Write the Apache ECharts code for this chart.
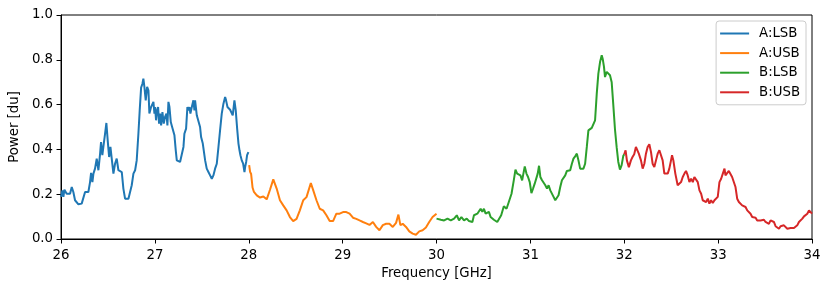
<!DOCTYPE html>
<html>
<head>
<meta charset="utf-8">
<script src="https://cdn.jsdelivr.net/npm/echarts@6/dist/echarts.min.js"></script>
<style>html,body{margin:0;padding:0;background:#fff;}#c{width:831px;height:290px;}</style>
</head>
<body>
<div id="c"></div>
<script>
// Frequency [GHz], Power [du]
const seriesNames = ['A:LSB', 'A:USB', 'B:LSB', 'B:USB'];
const xTicks = [26, 27, 28, 29, 30, 31, 32, 33, 34];
const yTicks = [0.0, 0.2, 0.4, 0.6, 0.8, 1.0];

const aLsb = [[26.000,0.188],[26.014,0.217],[26.025,0.188],[26.036,0.220],[26.060,0.202],[26.096,0.202],[26.114,0.232],[26.131,0.210],[26.149,0.173],[26.185,0.155],
[26.202,0.147],[26.220,0.158],[26.238,0.150],[26.256,0.210],[26.274,0.210],[26.291,0.210],[26.309,0.254],[26.320,0.295],[26.334,0.254],[26.345,0.292],
[26.362,0.314],[26.380,0.359],[26.398,0.307],[26.416,0.381],[26.426,0.433],[26.440,0.374],[26.451,0.411],[26.469,0.470],[26.483,0.518],[26.497,0.440],
[26.512,0.366],[26.526,0.411],[26.540,0.359],[26.558,0.292],[26.575,0.336],[26.593,0.359],[26.611,0.307],[26.629,0.307],[26.647,0.299],[26.664,0.225],
[26.682,0.180],[26.700,0.183],[26.718,0.180],[26.735,0.173],[26.753,0.240],[26.771,0.292],[26.789,0.307],[26.806,0.351],[26.824,0.470],[26.838,0.574],
[26.853,0.676],[26.867,0.693],[26.877,0.716],[26.888,0.679],[26.902,0.619],[26.917,0.679],[26.931,0.664],[26.941,0.560],[26.959,0.589],[26.973,0.589],
[26.984,0.612],[26.995,0.560],[27.002,0.589],[27.012,0.530],[27.023,0.574],[27.034,0.589],[27.044,0.515],[27.055,0.560],[27.066,0.507],[27.080,0.567],
[27.094,0.515],[27.108,0.545],[27.123,0.560],[27.133,0.507],[27.144,0.612],[27.155,0.589],[27.169,0.522],[27.179,0.507],[27.197,0.507],[27.208,0.463],
[27.222,0.396],[27.233,0.351],[27.250,0.344],[27.268,0.344],[27.286,0.336],[27.304,0.411],[27.314,0.470],[27.332,0.493],[27.346,0.589],[27.357,0.574],
[27.368,0.589],[27.378,0.560],[27.393,0.589],[27.410,0.619],[27.421,0.574],[27.428,0.619],[27.446,0.552],[27.464,0.545],[27.481,0.500],[27.492,0.455],
[27.510,0.426],[27.535,0.351],[27.552,0.314],[27.570,0.299],[27.588,0.284],[27.606,0.269],[27.623,0.284],[27.641,0.314],[27.659,0.336],[27.677,0.411],
[27.694,0.485],[27.712,0.560],[27.730,0.604],[27.748,0.634],[27.758,0.619],[27.773,0.589],[27.783,0.582],[27.801,0.577],[27.819,0.574],[27.829,0.552],
[27.847,0.619],[27.861,0.574],[27.876,0.493],[27.890,0.426],[27.901,0.396],[27.911,0.374],[27.925,0.351],[27.940,0.336],[27.954,0.299],[27.961,0.321],
[27.972,0.344],[27.982,0.374],[27.996,0.388]];

const aUsb = [[28.004,0.330],[28.014,0.300],[28.025,0.290],[28.040,0.230],[28.055,0.210],[28.085,0.195],[28.120,0.185],[28.155,0.190],[28.191,0.177],[28.226,0.220],
[28.261,0.266],[28.297,0.225],[28.332,0.173],[28.367,0.150],[28.403,0.128],[28.438,0.098],[28.473,0.080],[28.509,0.090],[28.544,0.128],[28.580,0.173],
[28.615,0.187],[28.661,0.250],[28.686,0.218],[28.721,0.173],[28.756,0.135],[28.792,0.128],[28.827,0.106],[28.862,0.080],[28.898,0.080],[28.933,0.113],
[28.968,0.113],[29.004,0.120],[29.039,0.120],[29.074,0.113],[29.110,0.095],[29.145,0.090],[29.180,0.083],[29.216,0.076],[29.251,0.070],[29.286,0.063],
[29.322,0.076],[29.357,0.054],[29.392,0.039],[29.428,0.062],[29.463,0.068],[29.498,0.068],[29.534,0.054],[29.569,0.072],[29.594,0.109],[29.615,0.062],
[29.640,0.068],[29.675,0.054],[29.710,0.034],[29.746,0.024],[29.781,0.019],[29.816,0.034],[29.852,0.039],[29.887,0.051],[29.922,0.076],[29.958,0.098],
[30.000,0.113]];

const bLsb = [[30.000,0.091],[30.046,0.086],[30.081,0.083],[30.117,0.091],[30.152,0.083],[30.187,0.091],[30.216,0.106],[30.240,0.083],[30.265,0.098],[30.293,0.083],
[30.322,0.091],[30.346,0.080],[30.382,0.076],[30.399,0.106],[30.417,0.098],[30.435,0.113],[30.470,0.135],[30.488,0.121],[30.505,0.135],[30.523,0.113],
[30.541,0.106],[30.558,0.121],[30.576,0.098],[30.594,0.091],[30.611,0.086],[30.647,0.076],[30.664,0.083],[30.689,0.106],[30.717,0.146],[30.746,0.135],
[30.770,0.165],[30.799,0.202],[30.823,0.262],[30.841,0.310],[30.859,0.292],[30.876,0.295],[30.894,0.284],[30.912,0.262],[30.922,0.284],[30.940,0.324],
[30.958,0.292],[30.975,0.277],[30.993,0.254],[31.011,0.205],[31.028,0.225],[31.046,0.247],[31.064,0.254],[31.078,0.292],[31.092,0.327],[31.106,0.277],
[31.124,0.262],[31.141,0.254],[31.159,0.240],[31.177,0.225],[31.194,0.240],[31.212,0.217],[31.230,0.225],[31.247,0.188],[31.265,0.173],[31.283,0.180],
[31.300,0.195],[31.318,0.232],[31.336,0.262],[31.353,0.269],[31.371,0.284],[31.389,0.304],[31.406,0.299],[31.424,0.307],[31.442,0.336],[31.459,0.359],
[31.477,0.369],[31.495,0.381],[31.512,0.351],[31.530,0.314],[31.548,0.307],[31.565,0.314],[31.583,0.336],[31.601,0.411],[31.618,0.485],[31.636,0.493],
[31.654,0.496],[31.671,0.500],[31.689,0.530],[31.707,0.649],[31.724,0.738],[31.742,0.790],[31.760,0.820],[31.770,0.805],[31.784,0.768],[31.795,0.723],
[31.813,0.746],[31.830,0.738],[31.848,0.731],[31.866,0.700],[31.883,0.600],[31.901,0.490],[31.919,0.410],[31.936,0.345],[31.954,0.310],[31.972,0.330],
[31.989,0.370],[32.000,0.378]];

const bUsb = [[32.000,0.378],[32.014,0.396],[32.028,0.351],[32.049,0.321],[32.071,0.351],[32.088,0.366],[32.106,0.378],[32.124,0.411],[32.138,0.418],[32.155,0.381],
[32.178,0.351],[32.196,0.314],[32.214,0.336],[32.231,0.381],[32.249,0.411],[32.267,0.423],[32.285,0.388],[32.302,0.336],[32.320,0.321],[32.338,0.351],
[32.356,0.381],[32.374,0.396],[32.391,0.399],[32.409,0.351],[32.427,0.292],[32.445,0.284],[32.463,0.292],[32.480,0.314],[32.498,0.351],[32.509,0.374],
[32.523,0.351],[32.544,0.292],[32.569,0.240],[32.587,0.232],[32.605,0.254],[32.623,0.277],[32.641,0.292],[32.658,0.304],[32.676,0.284],[32.694,0.254],
[32.712,0.269],[32.730,0.254],[32.747,0.277],[32.765,0.284],[32.783,0.254],[32.801,0.217],[32.819,0.202],[32.836,0.173],[32.854,0.180],[32.872,0.165],
[32.890,0.180],[32.907,0.158],[32.925,0.173],[32.943,0.161],[32.961,0.173],[32.979,0.180],[32.996,0.188],[33.014,0.254],[33.032,0.269],[33.050,0.292],
[33.068,0.314],[33.078,0.284],[33.096,0.277],[33.114,0.304],[33.132,0.299],[33.149,0.277],[33.167,0.277],[33.185,0.232],[33.203,0.180],[33.221,0.165],
[33.238,0.165],[33.256,0.150],[33.274,0.158],[33.292,0.143],[33.310,0.128],[33.327,0.128],[33.345,0.113],[33.363,0.098],[33.381,0.091],[33.399,0.095],
[33.416,0.083],[33.434,0.091],[33.452,0.083],[33.470,0.076],[33.488,0.086],[33.505,0.076],[33.523,0.083],[33.541,0.068],[33.559,0.083],[33.577,0.091],
[33.594,0.076],[33.612,0.057],[33.630,0.054],[33.648,0.046],[33.665,0.057],[33.683,0.049],[33.701,0.061],[33.719,0.054],[33.737,0.046],[33.754,0.054],
[33.772,0.049],[33.790,0.043],[33.808,0.049],[33.826,0.054],[33.843,0.061],[33.861,0.076],[33.879,0.083],[33.897,0.091],[33.915,0.101],[33.932,0.106],
[33.950,0.113],[33.968,0.128],[33.982,0.121],[34.000,0.113]];

const seriesData = [aLsb, aUsb, bLsb, bUsb];
const colors = ['#1f77b4', '#ff7f0e', '#2ca02c', '#d62728'];
const FONT = 'DejaVu Sans';
const FS = 13.3;

const chart = echarts.init(document.getElementById('c'), null, {renderer: 'canvas'});
chart.setOption({
  animation: false,
  backgroundColor: '#ffffff',
  grid: {left: 59, right: 19, top: 15, bottom: 51, show: true, borderColor: '#000', borderWidth: 1, backgroundColor: 'transparent'},
  legend: {
    orient: 'vertical', right: 25, top: 21,
    data: seriesNames,
    icon: 'rect', itemWidth: 29, itemHeight: 2, itemGap: 4.6,
    padding: [5, 6, 5, 4],
    borderColor: '#cccccc', borderWidth: 1, borderRadius: 3,
    backgroundColor: 'rgba(255,255,255,0.8)',
    textStyle: {fontFamily: FONT, fontSize: FS, color: '#000', lineHeight: 15, padding: [0, 0, 0, 5]}
  },
  xAxis: {
    type: 'value', min: xTicks[0], max: xTicks[xTicks.length - 1], interval: 1,
    name: 'Frequency [GHz]', nameLocation: 'middle', nameGap: 27,
    nameTextStyle: {fontFamily: FONT, fontSize: FS, color: '#000'},
    axisLine: {show: true, onZero: false, lineStyle: {color: '#000', width: 1}},
    axisTick: {show: true, length: 4.5, lineStyle: {color: '#000', width: 1}},
    axisLabel: {fontFamily: FONT, fontSize: FS, color: '#000', margin: 10},
    splitLine: {show: false}
  },
  yAxis: {
    type: 'value', min: yTicks[0], max: yTicks[yTicks.length - 1], interval: 0.2,
    name: 'Power [du]', nameLocation: 'middle', nameGap: 35, nameRotate: 90,
    nameTextStyle: {fontFamily: FONT, fontSize: FS, color: '#000'},
    axisLine: {show: true, lineStyle: {color: '#000', width: 1}},
    axisTick: {show: true, length: 4.5, lineStyle: {color: '#000', width: 1}},
    axisLabel: {fontFamily: FONT, fontSize: FS, color: '#000', margin: 8, formatter: v => v.toFixed(1)},
    splitLine: {show: false}
  },
  series: seriesNames.map((n, i) => ({
    name: n, type: 'line', data: seriesData[i], symbol: 'none', showSymbol: false,
    color: colors[i], lineStyle: {color: colors[i], width: 2}, z: 2 + i
  }))
});
</script>
</body>
</html>
